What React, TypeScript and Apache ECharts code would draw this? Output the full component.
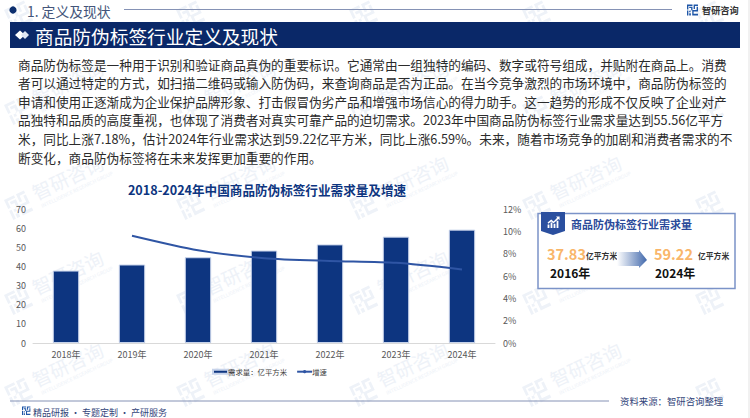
import React, { useEffect, useRef } from "react";
import * as echarts from "echarts";

const categories = ["2018年", "2019年", "2020年", "2021年", "2022年", "2023年", "2024年"];
const demand = [37.83, 41, 44.8, 48.3, 51.5, 55.56, 59.22];
const growth = [null, 9.6, 8.3, 7.6, 7.35, 7.18, 6.59];
const barName = "需求量：亿平方米";
const lineName = "增速";
const bodyLines = [
  "商品防伪标签是一种用于识别和验证商品真伪的重要标识。它通常由一组独特的编码、数字或符号组成，并贴附在商品上。消费",
  "者可以通过特定的方式，如扫描二维码或输入防伪码，来查询商品是否为正品。在当今竞争激烈的市场环境中，商品防伪标签的",
  "申请和使用正逐渐成为企业保护品牌形象、打击假冒伪劣产品和增强市场信心的得力助手。这一趋势的形成不仅反映了企业对产",
  "品独特和品质的高度重视，也体现了消费者对真实可靠产品的迫切需求。2023年中国商品防伪标签行业需求量达到55.56亿平方",
  "米，同比上涨7.18%，估计2024年行业需求达到59.22亿平方米，同比上涨6.59%。未来，随着市场竞争的加剧和消费者需求的不",
  "断变化，商品防伪标签将在未来发挥更加重要的作用。",
];
const wmCols = [15, 187, 360, 533, 706];
const wmRows = [15, 110, 205, 300, 392];

const FONT = '"Noto Sans CJK SC", "Noto Sans", sans-serif';
const NAVY = "#0d3580";

echarts.graphic.registerShape(
  "zyLogo",
  echarts.graphic.extendPath(
    "M0 0H10V2.5H2.5V9H0ZM4 4H10V10.5H6.5V14H4V11.5H7.5V6.5H4ZM12 0H20V2.5H14.5V8H12ZM20 4V12.5H12V20H9.5V10H17.5V4ZM0 11H2.5V20H0ZM4 16H7V20H4ZM12 17H20V20H12Z" as any,
    {} as any
  ) as any
);
echarts.graphic.registerShape(
  "trendIcon",
  echarts.graphic.extendPath(
    "M1 20V14H4V20ZM6 20V11H9V20ZM11 20V13H14V20ZM16 20V8H19V20ZM1 11L7 6L11 9L17 3L15 1H21V7L19 5L11 12L7 9L2 13Z" as any,
    {} as any
  ) as any
);

const txt = (text: string, x: number, y: number, font: string, fill: string, align = "left") => ({
  type: "text",
  z: 5,
  style: { text, x, y, font, fill, align, verticalAlign: "middle" },
});
const fontOf = (size: number, weight = "normal") => `${weight} ${size}px ${FONT}`;

function watermark(x: number, y: number, withText: boolean) {
  const c = "#eef2f8";
  const logo = { type: "zyLogo", z: 0, x: x - 11, y: y - 5, scaleX: 1.1, scaleY: 1.1, rotation: 0.44, style: { fill: c } };
  if (!withText) return [logo];
  return [
    logo,
    {
      type: "group",
      z: 0,
      x: x + 18,
      y: y - 12,
      rotation: 0.44,
      children: [
        { type: "text", z: 0, style: { text: "智研咨询", x: 0, y: 0, font: fontOf(19), fill: c, verticalAlign: "middle" } },
        {
          type: "text",
          z: 0,
          style: { text: "INTELLIGENCE RESEARCH GROUP", x: 2, y: 15, font: fontOf(5), fill: c, verticalAlign: "middle" },
        },
      ],
    },
  ];
}

function buildGraphic() {
  const wm: any[] = [];
  wmRows.forEach((y, r) => wmCols.forEach((x, c) => wm.push(...watermark(x, y, r > 0 && c < wmCols.length - 1))));
  const body = bodyLines.map((line, i) => txt(line, 18, 64 + i * 18.66, fontOf(12.67), "#2b2b2b"));
  const arrowFill = new echarts.graphic.LinearGradient(0, 0, 1, 0, [
    { offset: 0, color: "#ffffff" },
    { offset: 1, color: "#4269ac" },
  ]);
  return [
    ...wm,
    { type: "rect", z: 1, shape: { x: 748, y: 0, width: 2, height: 418 }, style: { fill: "#f1f1f1" } },
    { type: "circle", z: 5, shape: { cx: 13, cy: 10, r: 3.6 }, style: { fill: "#0d2f6e" } },
    txt("1. 定义及现状", 27, 10.5, fontOf(13.8), "#44557a"),
    { type: "line", z: 5, shape: { x1: 124, y1: 9.5, x2: 672, y2: 9.5 }, style: { stroke: "#8592b5", lineWidth: 1 } },
    { type: "zyLogo", z: 5, x: 687, y: 4.5, scaleX: 0.55, scaleY: 0.55, style: { fill: "#1f57a8" } },
    txt("智研咨询", 702, 9.5, fontOf(9.2, "bold"), "#333333"),
    { type: "rect", z: 5, shape: { x: 10, y: 22, width: 730, height: 26 }, style: { fill: "#0a2868" } },
    { type: "polygon", z: 6, shape: { points: [[15, 35], [20, 30.5], [25, 35], [20, 39.5]] }, style: { fill: "#ffffff" } },
    { type: "polygon", z: 6, shape: { points: [[21, 35], [25, 31], [29, 35], [25, 39]] }, style: { fill: "#dfe6f2" } },
    txt("商品防伪标签行业定义及现状", 35, 35, fontOf(18.7), "#ffffff"),
    ...body,
    { type: "rect", z: 5, shape: { x: 538, y: 213.5, width: 197, height: 75 }, style: { fill: "#ffffff", stroke: "#7b93c8", lineWidth: 1.5 } },
    { type: "polygon", z: 6, shape: { points: [[541, 212], [565, 212], [565, 231], [553, 235], [541, 231]] }, style: { fill: "#2a4f9f" } },
    { type: "trendIcon", z: 7, x: 547, y: 216, scaleX: 0.6, scaleY: 0.6, style: { fill: "#ffffff" } },
    txt("商品防伪标签行业需求量", 571, 224, fontOf(11, "bold"), "#2a4a9a"),
    txt("37.83", 547, 253, fontOf(14.5, "bold"), "#f9b66a"),
    txt("亿平方米", 586, 255, fontOf(7.8, "bold"), "#333333"),
    txt("2016年", 550, 272, fontOf(12, "bold"), "#111111"),
    txt("59.22", 654, 253, fontOf(14.5, "bold"), "#f9b66a"),
    txt("亿平方米", 698, 255, fontOf(7.8, "bold"), "#333333"),
    txt("2024年", 655, 272, fontOf(12, "bold"), "#111111"),
    {
      type: "polygon",
      z: 6,
      shape: { points: [[617, 252], [639, 252], [639, 250], [647, 260], [639, 268], [639, 266], [617, 266]] },
      style: { fill: arrowFill },
    },
    { type: "line", z: 5, shape: { x1: 10, y1: 401, x2: 609, y2: 401 }, style: { stroke: "#8592b5", lineWidth: 1 } },
    { type: "zyLogo", z: 5, x: 22, y: 406.5, scaleX: 0.42, scaleY: 0.42, style: { fill: "#1f57a8" } },
    txt("精品研报 · 专题定制 · 产研服务", 33, 412, fontOf(9), "#33457a"),
    txt("资料来源：智研咨询整理", 620, 400.5, fontOf(9.4), "#33457a"),
  ];
}

export default function App() {
  const ref = useRef<HTMLDivElement>(null);
  useEffect(() => {
    const chart = echarts.init(ref.current!, undefined, { renderer: "svg" });
    const axisLabel = { color: "#595959", fontSize: 9, fontFamily: FONT };
    chart.setOption({
      animation: false,
      backgroundColor: "#ffffff",
      textStyle: { fontFamily: FONT },
      title: {
        text: "2018-2024年中国商品防伪标签行业需求量及增速",
        left: 262,
        top: 178,
        textAlign: "center",
        textStyle: { color: NAVY, fontSize: 12.6, fontWeight: "bold", fontFamily: FONT },
      },
      grid: { left: 33, right: 255, top: 209, bottom: 75 },
      legend: {
        left: 207,
        top: 363,
        itemWidth: 15,
        itemHeight: 4,
        itemGap: 9,
        textStyle: { color: "#404040", fontSize: 7.4, fontFamily: FONT, padding: [0, 0, 0, -5] },
        data: [{ name: barName, icon: "rect" }, { name: lineName }],
      },
      xAxis: {
        type: "category",
        data: categories,
        axisLine: { lineStyle: { color: "#d9d9d9" } },
        axisTick: { lineStyle: { color: "#d9d9d9" } },
        axisLabel: { ...axisLabel, margin: 7 },
      },
      yAxis: [
        {
          type: "value",
          min: 0,
          max: 70,
          interval: 10,
          axisLine: { show: false },
          axisTick: { show: false },
          splitLine: { show: false },
          axisLabel: { ...axisLabel, margin: 7 },
        },
        {
          type: "value",
          min: 0,
          max: 12,
          interval: 2,
          position: "right",
          axisLine: { show: false },
          axisTick: { show: false },
          splitLine: { show: false },
          axisLabel: { ...axisLabel, margin: 8, formatter: "{value}%" },
        },
      ],
      series: [
        {
          name: barName,
          type: "bar",
          data: demand,
          barWidth: "40%",
          itemStyle: { color: NAVY, borderColor: "#c7d3ea", borderWidth: 1 },
        },
        {
          name: lineName,
          type: "line",
          yAxisIndex: 1,
          data: growth,
          symbol: "none",
          smooth: 0.25,
          lineStyle: { color: "#2f55a4", width: 2 },
          itemStyle: { color: "#2f55a4" },
        },
      ],
      graphic: { elements: buildGraphic() },
    });
    return () => chart.dispose();
  }, []);
  return <div ref={ref} style={{ position: "absolute", left: 0, top: 0, width: 750, height: 418 }} />;
}
